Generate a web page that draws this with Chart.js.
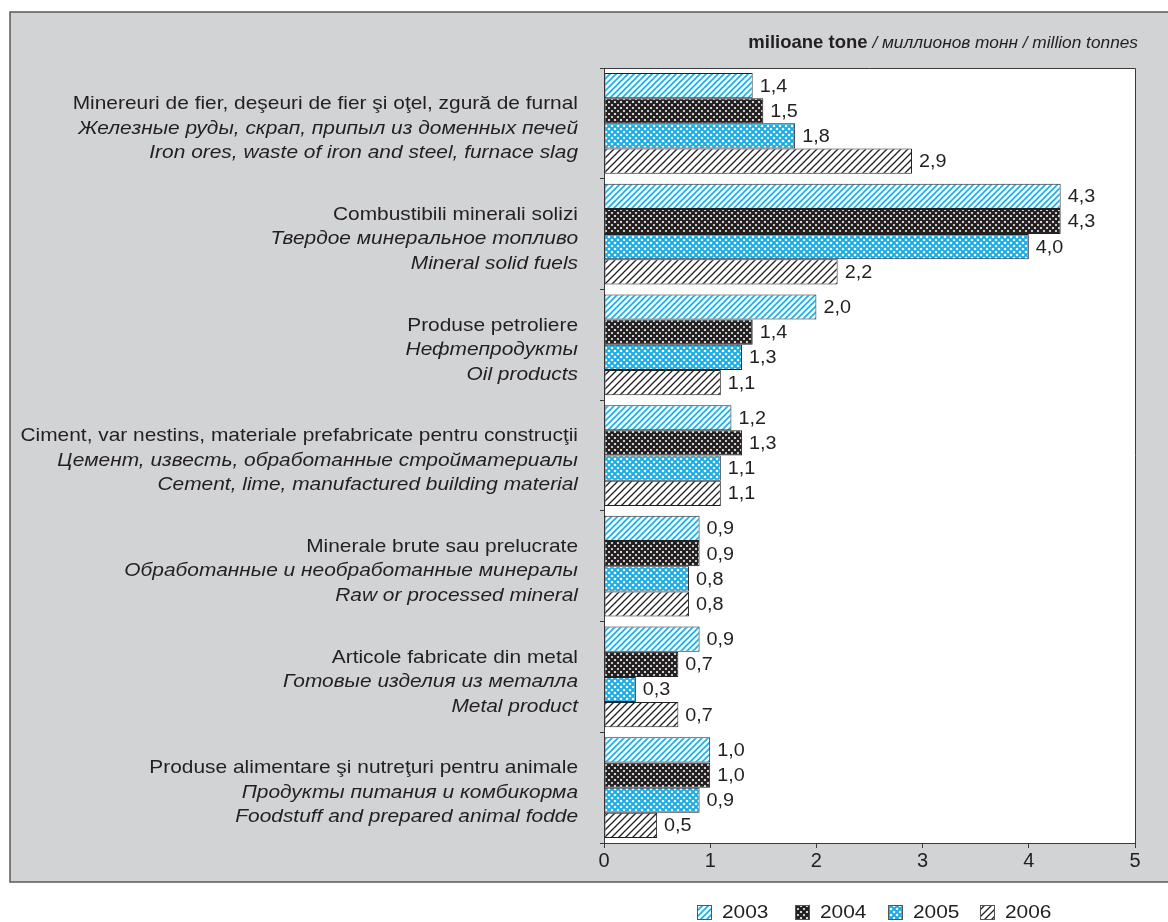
<!DOCTYPE html>
<html>
<head>
<meta charset="utf-8">
<title>Transport de mărfuri</title>
<script src="https://cdn.jsdelivr.net/npm/chart.js@4.4.1/dist/chart.umd.min.js"></script>
<style>
    html, body { margin: 0; padding: 0; background: #ffffff; }
    #wrap { width: 1168px; height: 922px; }
</style>
</head>
<body>
<div id="wrap"><canvas id="goodsChart" width="1168" height="922"></canvas></div>
<script>
// Categories: Romanian / Russian / English
const categoriesRo = [
    'Minereuri de fier, deşeuri de fier şi oţel, zgură de furnal',
    'Combustibili minerali solizi',
    'Produse petroliere',
    'Ciment, var nestins, materiale prefabricate pentru construcţii',
    'Minerale brute sau prelucrate',
    'Articole fabricate din metal',
    'Produse alimentare şi nutreţuri pentru animale'
];
const categoriesRu = [
    'Железные руды, скрап, припыл из доменных печей',
    'Твердое минеральное топливо',
    'Нефтепродукты',
    'Цемент, известь, обработанные стройматериалы',
    'Обработанные и необработанные минералы',
    'Готовые изделия из металла',
    'Продукты питания и комбикорма'
];
const categoriesEn = [
    'Iron ores, waste of iron and steel, furnace slag',
    'Mineral solid fuels',
    'Oil products',
    'Cement, lime, manufactured building material',
    'Raw or processed mineral',
    'Metal product',
    'Foodstuff and prepared animal fodde'
];

const years = ['2003', '2004', '2005', '2006'];

// million tonnes
const values2003 = [1.4, 4.3, 2.0, 1.2, 0.9, 0.9, 1.0];
const values2004 = [1.5, 4.3, 1.4, 1.3, 0.9, 0.7, 1.0];
const values2005 = [1.8, 4.0, 1.3, 1.1, 0.8, 0.3, 0.9];
const values2006 = [2.9, 2.2, 1.1, 1.1, 0.8, 0.7, 0.5];

const xTicks = [0, 1, 2, 3, 4, 5];

// Colours and fonts
const FONT = "'Liberation Sans', Arial, sans-serif";
const TEXT_COLOR = '#231f20';
const PANEL_COLOR = '#d1d3d4';
const LINE_COLOR = '#3a3a3c';
const BLUE = '#17aee8';
const STRETCH = 1.1; // the typeface is set a little wide

// Fill patterns
function makeTile(size, paint) {
    const c = document.createElement('canvas');
    c.width = size;
    c.height = size;
    const g = c.getContext('2d');
    paint(g, size);
    return document.createElement('canvas').getContext('2d').createPattern(c, 'repeat');
}

function diagonal(g, s, dir) {
    g.beginPath();
    if (dir > 0) {
        g.moveTo(-1, s + 1); g.lineTo(s + 1, -1);
        g.moveTo(-1, 1); g.lineTo(1, -1);
        g.moveTo(s - 1, s + 1); g.lineTo(s + 1, s - 1);
    } else {
        g.moveTo(-1, -1); g.lineTo(s + 1, s + 1);
        g.moveTo(s - 1, -1); g.lineTo(s + 1, 1);
        g.moveTo(-1, s - 1); g.lineTo(1, s + 1);
    }
    g.stroke();
}

const pattern2003 = makeTile(6, (g, s) => {
    g.fillStyle = '#ffffff';
    g.fillRect(0, 0, s, s);
    g.strokeStyle = BLUE;
    g.lineWidth = 1.6;
    diagonal(g, s, 1);
});

const pattern2004 = makeTile(6, (g, s) => {
    g.fillStyle = '#ffffff';
    g.fillRect(0, 0, s, s);
    g.strokeStyle = '#231f20';
    g.lineWidth = 2.3;
    diagonal(g, s, 1);
    diagonal(g, s, -1);
});

const pattern2005 = makeTile(6, (g, s) => {
    g.fillStyle = BLUE;
    g.fillRect(0, 0, s, s);
    g.fillStyle = '#ffffff';
    [[0, 0], [6, 0], [0, 6], [6, 6], [3, 3]].forEach(([x, y]) => {
        g.beginPath();
        g.arc(x, y, 1.3, 0, Math.PI * 2);
        g.fill();
    });
});

const pattern2006 = makeTile(7, (g, s) => {
    g.fillStyle = '#ffffff';
    g.fillRect(0, 0, s, s);
    g.strokeStyle = '#231f20';
    g.lineWidth = 1.3;
    diagonal(g, s, 1);
});

const patterns = [pattern2003, pattern2004, pattern2005, pattern2006];
const seriesValues = [values2003, values2004, values2005, values2006];

function formatValue(v) {
    return v.toFixed(1).replace('.', ',');
}

// text drawn slightly widened
function wideText(ctx, text, x, y, font, align) {
    ctx.save();
    ctx.font = font;
    ctx.textAlign = align;
    ctx.translate(x, y);
    ctx.scale(STRETCH, 1);
    ctx.fillText(text, 0, 0);
    ctx.restore();
}

// Grey panel, plot background, category labels, value labels, unit, legend
const decorPlugin = {
    id: 'decor',
    beforeDraw(chart) {
        const { ctx, chartArea } = chart;
        ctx.save();
        ctx.fillStyle = PANEL_COLOR;
        ctx.fillRect(10, 12, 1170, 870);
        ctx.strokeStyle = '#58595b';
        ctx.lineWidth = 1.5;
        ctx.strokeRect(10, 12, 1170, 870);
        ctx.fillStyle = '#ffffff';
        ctx.fillRect(chartArea.left, chartArea.top,
            chartArea.right - chartArea.left, chartArea.bottom - chartArea.top);
        ctx.restore();
    },
    afterDraw(chart) {
        const { ctx, chartArea } = chart;
        const yScale = chart.scales.y;
        ctx.save();

        // plot frame (top and right)
        ctx.strokeStyle = LINE_COLOR;
        ctx.lineWidth = 1;
        ctx.beginPath();
        ctx.moveTo(chartArea.left, chartArea.top + 0.5);
        ctx.lineTo(chartArea.right + 0.5, chartArea.top + 0.5);
        ctx.lineTo(chartArea.right + 0.5, chartArea.bottom);
        ctx.stroke();

        // category labels, three languages
        ctx.fillStyle = TEXT_COLOR;
        ctx.textBaseline = 'middle';
        const labelX = chartArea.left - 26;
        categoriesRo.forEach((ro, i) => {
            const cy = yScale.getPixelForValue(i) + 5;
            wideText(ctx, ro, labelX, cy - 24.5, `19px ${FONT}`, 'right');
            wideText(ctx, categoriesRu[i], labelX, cy, `italic 19px ${FONT}`, 'right');
            wideText(ctx, categoriesEn[i], labelX, cy + 24.5, `italic 19px ${FONT}`, 'right');
        });

        // value labels at bar ends
        chart.data.datasets.forEach((ds, di) => {
            const meta = chart.getDatasetMeta(di);
            meta.data.forEach((bar, i) => {
                wideText(ctx, formatValue(ds.data[i]), bar.x + 7, bar.y + 1, `18px ${FONT}`, 'left');
            });
        });

        // unit
        ctx.textAlign = 'left';
        ctx.textBaseline = 'alphabetic';
        const unitBold = 'milioane tone';
        const unitRest = ' / миллионов тонн / million tonnes';
        ctx.font = `italic 17.3px ${FONT}`;
        const restW = ctx.measureText(unitRest).width;
        ctx.font = `bold 18.5px ${FONT}`;
        const boldW = ctx.measureText(unitBold).width;
        const unitRight = 1138;
        ctx.fillText(unitBold, unitRight - restW - boldW, 48);
        ctx.font = `italic 17.3px ${FONT}`;
        ctx.fillText(unitRest, unitRight - restW, 48);

        // legend
        ctx.textBaseline = 'middle';
        const legendX = [697, 795, 888, 980];
        years.forEach((yr, i) => {
            const x = legendX[i];
            ctx.fillStyle = patterns[i];
            ctx.fillRect(x, 905, 14, 14);
            ctx.strokeStyle = '#555555';
            ctx.lineWidth = 1;
            ctx.strokeRect(x + 0.5, 905.5, 14, 14);
            ctx.fillStyle = TEXT_COLOR;
            wideText(ctx, yr, x + 25, 913, `19px ${FONT}`, 'left');
        });

        ctx.restore();
    }
};

const ctx = document.getElementById('goodsChart').getContext('2d');

new Chart(ctx, {
    type: 'bar',
    data: {
        labels: categoriesEn,
        datasets: years.map((yr, i) => ({
            label: yr,
            data: seriesValues[i],
            backgroundColor: patterns[i],
            borderColor: '#231f20',
            borderWidth: 1,
            borderSkipped: false,
            barPercentage: 1,
            categoryPercentage: 0.91
        }))
    },
    options: {
        indexAxis: 'y',
        responsive: false,
        animation: false,
        layout: {
            padding: { top: 68, right: 33, bottom: 40, left: 0 }
        },
        plugins: {
            legend: { display: false },
            tooltip: { enabled: false }
        },
        scales: {
            x: {
                min: 0,
                max: 5,
                afterFit: (scale) => { scale.height = 39; },
                afterBuildTicks: (scale) => {
                    scale.ticks = xTicks.map(v => ({ value: v }));
                },
                ticks: {
                    color: TEXT_COLOR,
                    font: { family: FONT, size: 20 },
                    padding: 1
                },
                grid: {
                    drawOnChartArea: false,
                    drawTicks: true,
                    tickLength: 5,
                    color: LINE_COLOR
                },
                border: { color: LINE_COLOR, width: 1 }
            },
            y: {
                afterFit: (scale) => { scale.width = 604; },
                ticks: { display: false },
                grid: {
                    offset: true,
                    drawOnChartArea: false,
                    drawTicks: true,
                    tickLength: 4,
                    color: LINE_COLOR
                },
                border: { color: LINE_COLOR, width: 1 }
            }
        }
    },
    plugins: [decorPlugin]
});
</script>
</body>
</html>
